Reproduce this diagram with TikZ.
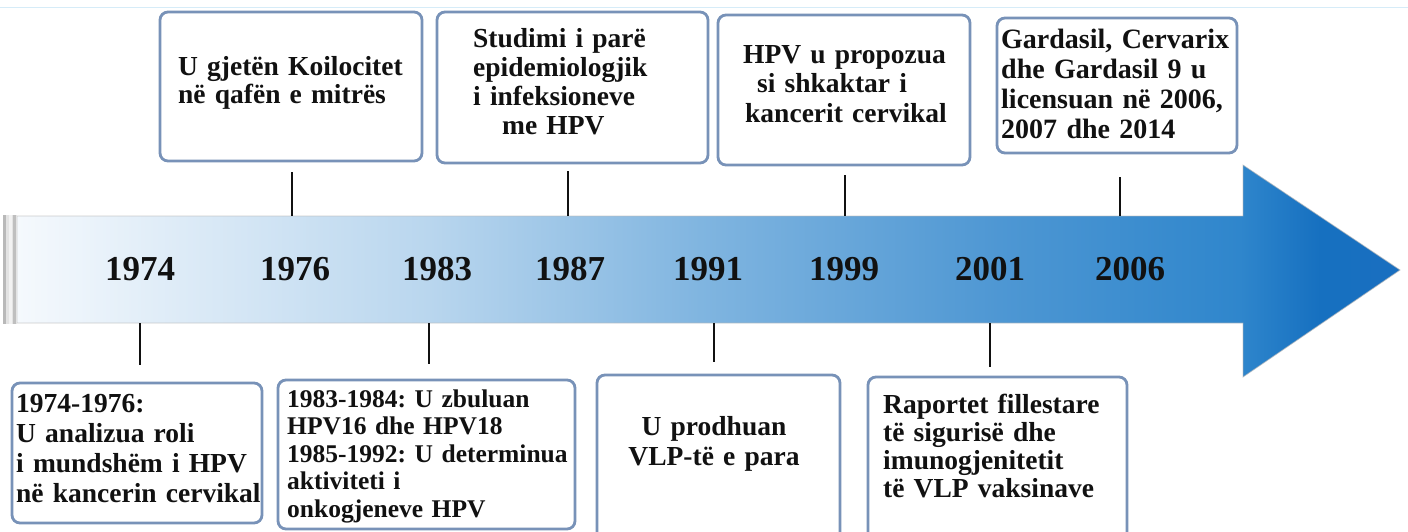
\documentclass[tikz,border=0pt]{standalone}
\usepackage{fontspec}
\setmainfont{Liberation Serif}
\frenchspacing
\definecolor{boxc}{HTML}{7892B8}
\definecolor{topln}{HTML}{D6ECF8}
\definecolor{c0}{HTML}{F5F9FD}
\definecolor{c1}{HTML}{B9D6EE}
\definecolor{c2}{HTML}{80B5E0}
\definecolor{c3}{HTML}{4E97D3}
\definecolor{c4}{HTML}{2F86CC}
\definecolor{c5}{HTML}{1670C0}
\definecolor{c6}{HTML}{1A6FC0}
\definecolor{inkc}{HTML}{111111}
\pgfdeclarehorizontalshading{tlshade}{100bp}{color(0bp)=(c0); color(25bp)=(c0); color(39.9bp)=(c1); color(49.7bp)=(c2); color(60.5bp)=(c3); color(69.2bp)=(c4); color(72.1bp)=(c5); color(75bp)=(c6); color(100bp)=(c6)}
\tikzset{
  evbox/.style={draw=boxc, line width=2.8pt, rounded corners=8pt, fill=white, inner sep=0pt},
  evtext/.style={anchor=base west, inner sep=0pt, text width=290pt, align=left, text=inkc},
  yeartext/.style={anchor=base, inner sep=0pt, text=inkc, font=\bfseries\fontsize{35}{40}\selectfont},
  tickln/.style={draw=inkc, line width=1.6pt}
}
\begin{document}
\begin{tikzpicture}[x=1pt,y=-1pt]
\clip (0,0) rectangle (1408,531);
\fill[white] (0,0) rectangle (1408,531);
% faint top line
\draw[topln, line width=1pt] (0,7) -- (1408,7);
% arrow
\path[shading=tlshade] (17,216) -- (1243,216) -- (1243,165) -- (1400,270) -- (1243,377) -- (1243,323) -- (17,323) -- cycle;
\draw[draw=gray!55, line width=0.8pt, opacity=0.7] (17,216) -- (1243,216) -- (1243,165) -- (1400,270) -- (1243,377) -- (1243,323) -- (17,323) -- cycle;
% left end strip
\fill[gray!22] (3,215) rectangle (17,324);
\fill[gray!55] (3,215) rectangle (6,324);
\fill[white!90!gray] (9,215) rectangle (12,324);
\fill[gray!50] (13,215) rectangle (16,324);
% years
\node[yeartext] (y1974) at (140,280) {1974};
\node[yeartext] (y1976) at (295,280) {1976};
\node[yeartext] (y1983) at (437,280) {1983};
\node[yeartext] (y1987) at (570,280) {1987};
\node[yeartext] (y1991) at (708,280) {1991};
\node[yeartext] (y1999) at (844,280) {1999};
\node[yeartext] (y2001) at (990,280) {2001};
\node[yeartext] (y2006) at (1130,280) {2006};
% top boxes
\node[evbox, minimum width=262pt, minimum height=149pt] (T1) at (291,86.5) {};
\node[evbox, minimum width=271pt, minimum height=151pt] (T2) at (572.5,87.5) {};
\node[evbox, minimum width=252pt, minimum height=150pt] (T3) at (844,90) {};
\node[evbox, minimum width=240pt, minimum height=135pt] (T4) at (1117,85.5) {};
% bottom boxes
\node[evbox, minimum width=250pt, minimum height=140pt] (B1) at (137,453) {};
\node[evbox, minimum width=297pt, minimum height=149pt] (B2) at (426.5,454.5) {};
\node[evbox, minimum width=243pt, minimum height=165pt] (B3) at (718.5,457.5) {};
\node[evbox, minimum width=259pt, minimum height=163pt] (B4) at (997.5,458.5) {};
% texts
\node[evtext, font=\bfseries\fontsize{27.5}{28}\selectfont] (T1t) at (178,75) {U gjetën Koilocitet\\në qafën e mitrës};
\node[evtext, font=\bfseries\fontsize{27.5}{29}\selectfont] (T2t) at (473,47) {Studimi i parë\\epidemiologjik\\i infeksioneve\\\hspace*{29pt}me HPV};
\node[evtext, font=\bfseries\fontsize{27.5}{29.5}\selectfont] (T3t) at (743,63) {HPV u propozua\\\hspace*{14pt}si shkaktar i\\\hspace*{2pt}kancerit cervikal};
\node[evtext, font=\bfseries\fontsize{28}{30}\selectfont] (T4t) at (1001,48) {Gardasil, Cervarix\\dhe Gardasil 9 u\\licensuan në 2006,\\2007 dhe 2014};
\node[evtext, font=\bfseries\fontsize{27.5}{30}\selectfont] (B1t) at (16,412) {1974-1976:\\U analizua roli\\i mundshëm i HPV\\në kancerin cervikal};
\node[evtext, font=\bfseries\fontsize{25.5}{27.5}\selectfont] (B2t) at (287,407) {1983-1984: U zbuluan\\HPV16 dhe HPV18\\1985-1992: U determinua\\aktiviteti i\\onkogjeneve HPV};
\node[anchor=base, inner sep=0pt, text width=230pt, align=center, text=inkc, font=\bfseries\fontsize{27.5}{30}\selectfont] (B3t) at (714,435) {U prodhuan\\VLP-të e para};
\node[evtext, font=\bfseries\fontsize{27.5}{28}\selectfont] (B4t) at (883,413) {Raportet fillestare\\të sigurisë dhe\\imunogjenitetit\\të VLP vaksinave};
% tick ends
\coordinate (k1976a) at (292,172); \coordinate (k1976b) at (292,216);
\coordinate (k1987a) at (568,171); \coordinate (k1987b) at (568,216);
\coordinate (k1999a) at (845,175); \coordinate (k1999b) at (845,216);
\coordinate (k2006a) at (1120,177); \coordinate (k2006b) at (1120,216);
\coordinate (k1974a) at (140,323); \coordinate (k1974b) at (140,365);
\coordinate (k1983a) at (429,323); \coordinate (k1983b) at (429,364);
\coordinate (k1991a) at (714,323); \coordinate (k1991b) at (714,362);
\coordinate (k2001a) at (990,323); \coordinate (k2001b) at (990,367);
\foreach \k in {1976,1987,1999,2006,1974,1983,1991,2001}{
  \draw[tickln] (k\k a) -- (k\k b);
}
\end{tikzpicture}
\end{document}
